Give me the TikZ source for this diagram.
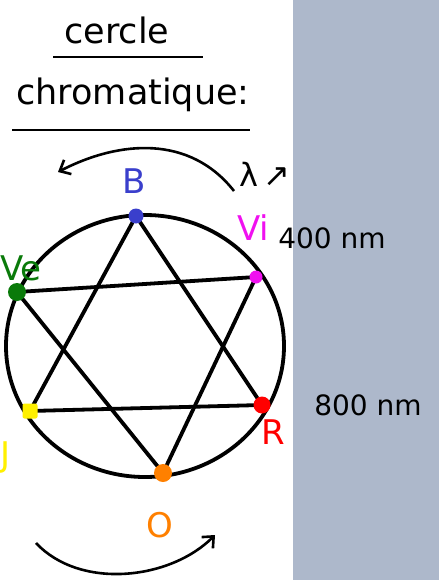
\documentclass[tikz,border=0pt]{standalone}
\usepackage{fontspec}
\setmainfont{DejaVu Sans}
\usetikzlibrary{arrows.meta}
\definecolor{bgside}{HTML}{ADB8CB}
\definecolor{cB}{HTML}{3A3FCC}
\definecolor{cVi}{HTML}{F010F0}
\definecolor{cVe}{HTML}{0A7A0A}
\definecolor{cJ}{HTML}{FFF000}
\definecolor{cR}{HTML}{FF0000}
\definecolor{cO}{HTML}{FF8000}
\tikzset{
  dot/.style={circle,inner sep=0pt,minimum size=15pt},
  lbl/.style={font=\fontsize{34}{38}\selectfont,inner sep=0pt},
  hand/.style={font=\fontsize{35}{40}\selectfont,inner sep=0pt},
  nm/.style={font=\fontsize{28}{32}\selectfont,inner sep=0pt},
  edge/.style={line width=3.8pt},
  arr/.style={line width=2.6pt,-{Straight Barb[length=9pt,width=16pt]}},
  rule/.style={line width=2pt}
}
\begin{document}
\begin{tikzpicture}[x=1pt,y=-1pt]
\useasboundingbox (0,0) rectangle (439,580);
\clip (0,0) rectangle (439,580);
\fill[bgside] (293,0) rectangle (439,580);
% title
\node[hand] (t1) at (117,30) {cercle};
\coordinate (r1a) at (53,57); \coordinate (r1b) at (203,57);
\draw[rule] (r1a) -- (r1b);
\node[hand] (t2) at (133,95) {chromatique:};
\coordinate (r2a) at (12,130); \coordinate (r2b) at (250,130);
\draw[rule] (r2a) -- (r2b);
% circle
\draw[edge] (145,346) ellipse [x radius=139, y radius=131];
\coordinate (pB) at (136,216);
\coordinate (pVi) at (256,277);
\coordinate (pR) at (262,405);
\coordinate (pO) at (163,473);
\coordinate (pJ) at (30,411);
\coordinate (pVe) at (17,292);
\draw[edge] (pB) -- (pJ) -- (pR) -- cycle;
\draw[edge] (pVe) -- (pVi) -- (pO) -- cycle;
\node[dot,fill=cB] (dB) at (pB) {};
\node[dot,fill=cVi,minimum size=13pt] (dVi) at (pVi) {};
\node[dot,fill=cR,minimum size=17pt] (dR) at (pR) {};
\node[dot,fill=cO,minimum size=18pt] (dO) at (pO) {};
\node[dot,fill=cJ,rectangle,rounded corners=2pt,minimum size=15pt] (dJ) at (pJ) {};
\node[dot,fill=cVe,minimum size=18pt] (dVe) at (pVe) {};
% labels
\node[lbl,text=cB] (lB) at (134,181) {B};
\node[lbl,text=cVi] (lVi) at (253,228) {Vi};
\node[lbl,text=cVe,anchor=west] (lVe) at (0,268) {Ve};
\node[lbl,text=cJ,anchor=west] (lJ) at (0,458) {J};
\node[lbl,text=cR] (lR) at (273,432) {R};
\node[lbl,text=cO] (lO) at (160,525) {O};
\node[nm] (n400) at (332,238) {400 nm};
\node[nm] (n800) at (368,405) {800 nm};
\node[font=\fontsize{32}{36}\selectfont,inner sep=0pt] (lam) at (265,174) {λ\,↗};
% arrows
\coordinate (a1s) at (234,191);
\coordinate (a1e) at (58,172);
\draw[arr] (a1s) .. controls (190,135) and (120,140) .. (a1e);
\coordinate (a2s) at (36,543);
\coordinate (a2e) at (215,535);
\draw[arr] (a2s) .. controls (80,590) and (170,580) .. (a2e);
\end{tikzpicture}
\end{document}
